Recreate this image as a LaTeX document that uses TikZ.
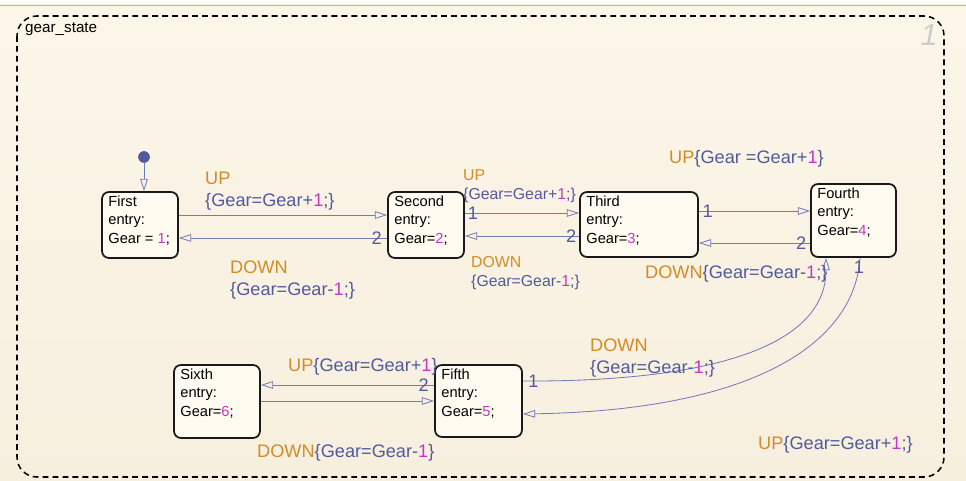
\documentclass[tikz,border=0pt]{standalone}
\usepackage{fontspec}
\setmainfont{Liberation Sans}
\usetikzlibrary{arrows.meta,fit}

\definecolor{chartbg}{RGB}{247,239,222}
\definecolor{charttop}{RGB}{252,246,233}
\definecolor{boxfill}{RGB}{255,251,241}
\definecolor{evcol}{RGB}{212,139,36}
\definecolor{actcol}{RGB}{82,90,158}
\definecolor{numcol}{RGB}{200,52,196}
\definecolor{wirecol}{RGB}{116,121,184}

\newcommand{\evt}[1]{\textcolor{evcol}{#1}}
\newcommand{\actn}[1]{\textcolor{actcol}{#1}}
\newcommand{\gnum}[1]{\textcolor{numcol}{#1}}

\tikzset{
    gearbox/.style={draw=black!90, line width=1.5pt, rounded corners=6pt, fill=boxfill, inner sep=0pt},
    boxtext/.style={anchor=north west, align=left, inner xsep=6pt, inner ysep=3.5pt, font=\fontsize{12.5}{16}\selectfont},
    trans/.style={draw=wirecol, line width=0.7pt, -{Triangle[open, length=10.5pt, width=6.5pt]}},
    tnum/.style={text=actcol, font=\fontsize{15.5}{15.5}\selectfont, inner sep=0pt},
    lbl/.style={anchor=west, align=left, inner sep=0pt, font=\fontsize{15.5}{18.8}\selectfont},
    lblsmall/.style={lbl, font=\fontsize{13.5}{16.2}\selectfont}
}

\begin{document}
\begin{tikzpicture}[x=0.03cm, y=-0.03cm]
    \useasboundingbox (0,0) rectangle (966,481);

    % --- BACKGROUND ---
    \fill[white] (0,0) rectangle (966,481);
    \shade[top color=charttop, bottom color=chartbg] (0,5) rectangle (966,481);
    \draw[gray!60, line width=0.8pt] (0,5) -- (966,5);

    % --- CHART FRAME ---
    \draw[line width=1.3pt, dash pattern=on 5pt off 3.5pt, rounded corners=17pt]
        (17,16) rectangle (944,477);
    \node[anchor=west, inner sep=0pt, font=\fontsize{13}{13}\selectfont] (chartname) at (25,29) {gear\_state};
    \node[text=gray!40, font=\fontsize{26}{26}\selectfont\itshape] (chartno) at (929,35) {1};

    % --- STATES ---
    \node[gearbox, fit={(102,192) (178,258)}] (first) {};
    \node[boxtext] (firsttxt) at (first.north west) {First\\entry:\\Gear = \gnum{1};};

    \node[gearbox, fit={(388,192) (464,258)}] (second) {};
    \node[boxtext] (secondtxt) at (second.north west) {Second\\entry:\\Gear=\gnum{2};};

    \node[gearbox, fit={(580,192) (698,257)}] (third) {};
    \node[boxtext] (thirdtxt) at (third.north west) {Third\\entry:\\Gear=\gnum{3};};

    \node[gearbox, fit={(811,184) (896,257)}] (fourth) {};
    \node[boxtext] (fourthtxt) at (fourth.north west) {Fourth\\entry:\\Gear=\gnum{4};};

    \node[gearbox, fit={(435,365) (522,437)}] (fifth) {};
    \node[boxtext] (fifthtxt) at (fifth.north west) {Fifth\\entry:\\Gear=\gnum{5};};

    \node[gearbox, fit={(174,365) (260,438)}] (sixth) {};
    \node[boxtext] (sixthtxt) at (sixth.north west) {Sixth\\entry:\\Gear=\gnum{6};};

    % default transition
    \node[circle, fill=actcol, inner sep=0pt, minimum size=10pt] (init) at (144,157) {};
    \draw[trans] (init) -- (first.north -| init);

    % --- TRANSITIONS ---
    \draw[trans] (first.east |- 0,215) -- (second.west |- 0,215);
    \draw[trans] (second.west |- 0,238) -- node[tnum, pos=0.05] {2} (first.east |- 0,238);

    \draw[trans] (second.east |- 0,213) -- node[tnum, pos=0.07] {1} (third.west |- 0,213);
    \draw[trans] (third.west |- 0,236) -- node[tnum, pos=0.07] {2} (second.east |- 0,236);

    \draw[trans] (third.east |- 0,211) -- node[tnum, pos=0.08] {1} (fourth.west |- 0,211);
    \draw[trans] (fourth.west |- 0,243) -- node[tnum, pos=0.08] {2} (third.east |- 0,243);

    \draw[trans] (fifth.east |- 0,381) .. controls (700,382) and (826,350) ..
        node[tnum, pos=0.02] {1} (fourth.south -| 826,0);
    \draw[trans] (fourth.south -| 860,0) .. controls (855,340) and (760,410) ..
        node[tnum, pos=0.04] {1} (fifth.east |- 0,414);

    \draw[trans] (fifth.west |- 0,385) -- node[tnum, pos=0.06] {2} (sixth.east |- 0,385);
    \draw[trans] (sixth.east |- 0,401) -- (fifth.west |- 0,401);

    % --- LABELS ---
    \node[lbl] (up12) at (205,191) {\evt{UP}\\\actn{\{Gear=Gear+}\gnum{1}\actn{;\}}};
    \node[lbl] (down21) at (230,280.5) {\evt{DOWN}\\\actn{\{Gear=Gear-}\gnum{1}\actn{;\}}};
    \node[lblsmall] (up23) at (463,186.5) {\evt{UP}\\\actn{\{Gear=Gear+}\gnum{1}\actn{;\}}};
    \node[lblsmall] (down32) at (471,273.5) {\evt{DOWN}\\\actn{\{Gear=Gear-}\gnum{1}\actn{;\}}};
    \node[lbl] (up34) at (669,159) {\evt{UP}\actn{\{Gear =Gear+}\gnum{1}\actn{\}}};
    \node[lbl] (down43) at (645,274) {\evt{DOWN}\actn{\{Gear=Gear-}\gnum{1}\actn{;\}}};
    \node[lbl] (down54) at (590,358) {\evt{DOWN}\\\actn{\{Gear=Gear-}\gnum{1}\actn{;\}}};
    \node[lbl] (up45) at (758,445) {\evt{UP}\actn{\{Gear=Gear+}\gnum{1}\actn{;\}}};
    \node[lbl] (up56) at (288,367) {\evt{UP}\actn{\{Gear=Gear+}\gnum{1}\actn{\}}};
    \node[lbl] (down65) at (257,453) {\evt{DOWN}\actn{\{Gear=Gear-}\gnum{1}\actn{\}}};
\end{tikzpicture}
\end{document}
